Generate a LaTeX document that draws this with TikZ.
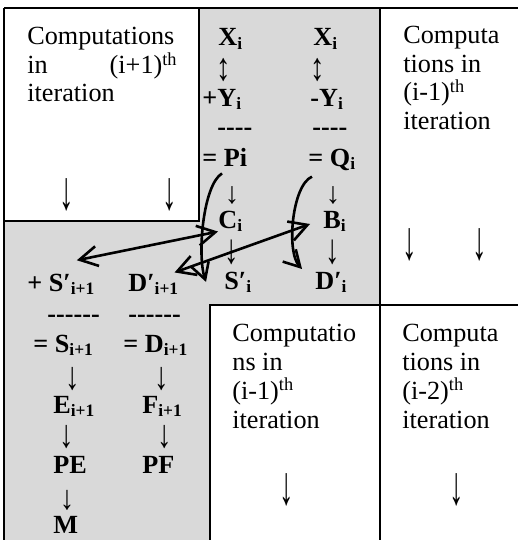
\documentclass[tikz,border=0pt]{standalone}
\usepackage{fontspec}
\setmainfont{Liberation Serif}
\usetikzlibrary{arrows.meta}
\definecolor{cellgray}{HTML}{D9D9D9}
\newcommand{\lo}[1]{\raisebox{-0.12em}{\fontsize{8.7}{9}\selectfont#1}}
\newcommand{\tall}[2]{\scalebox{1.1}[#1]{#2}}

\begin{document}
\begin{tikzpicture}[x=0.5pt, y=-0.5pt,
    every node/.style={font=\fontsize{13.1}{15}\selectfont, inner sep=0pt},
    txt/.style={anchor=base west},
    bld/.style={anchor=base west, font=\fontsize{13.1}{15}\selectfont\bfseries},
    pairlink/.style={line width=1.3pt, >={Straight Barb[length=9pt,width=10pt]}, <->},
    curvy/.style={line width=1.3pt, -{Straight Barb[length=8pt,width=9pt]}}]
    \useasboundingbox (0,0) rectangle (518,540);
    % table cells
    \fill[cellgray] (199,8) rectangle (380,305);
    \fill[cellgray] (4,221) rectangle (210,540);
    \draw[line width=1.4pt] (4,8) -- (518,8);
    \draw[line width=1pt] (4,8) -- (4,540);
    \draw[line width=1pt] (199,8) -- (199,221) -- (4,221);
    \draw[line width=1pt] (380,8) -- (380,540);
    \draw[line width=1pt] (210,540) -- (210,305) -- (518,305);

    % (i+1)th iteration
    \node[txt] (nxta) at (27,45) {Computations};
    \node[txt] (nxtb) at (27,74) {in};
    \node[anchor=base east] (nxtc) at (178,74) {(i+1)\textsuperscript{th}};
    \node[txt] (nxtd) at (27,102) {iteration};

    % (i-1)th iteration, top
    \node[txt] (prva) at (403,44) {Computa};
    \node[txt] (prvb) at (403,73) {tions in};
    \node[txt] (prvc) at (403,101) {(i-1)\textsuperscript{th}};
    \node[txt] (prvd) at (403,129) {iteration};

    % (i-1)th iteration, bottom
    \node[txt] (lowa) at (232,341) {Computatio};
    \node[txt] (lowb) at (232,370) {ns in};
    \node[txt] (lowc) at (232,399) {(i-1)\textsuperscript{th}};
    \node[txt] (lowd) at (232,428) {iteration};

    % (i-2)th iteration
    \node[txt] (olda) at (402,341) {Computa};
    \node[txt] (oldb) at (402,370) {tions in};
    \node[txt] (oldc) at (402,399) {(i-2)\textsuperscript{th}};
    \node[txt] (oldd) at (402,428) {iteration};

    % i-th iteration
    \node[bld] (xa) at (218,46) {X\lo{i}};
    \node[bld] (xb) at (313,46) {X\lo{i}};
    \node (ua) at (224,70) {\tall{1.5}{↕}};
    \node (ub) at (318,70) {\tall{1.5}{↕}};
    \node[bld] (ya) at (202,106) {+Y\lo{i}};
    \node[bld] (yb) at (310,106) {-Y\lo{i}};
    \node[bld] (ra) at (217,135) {-{}-{}-{}-};
    \node[bld] (rb) at (312,135) {-{}-{}-{}-};
    \node[bld] (pi) at (202,166) {= Pi};
    \node[bld] (qi) at (308,166) {= Q\lo{i}};
    \node[bld] (ci) at (218,228) {C\lo{i}};
    \node[bld] (bi) at (323,228) {B\lo{i}};
    \node[bld] (si) at (224,289) {S′\lo{i}};
    \node[bld] (di) at (315,289) {D′\lo{i}};

    % (i+1)-th iteration, lower part
    \node[bld] (sn) at (27,291) {+ S′\lo{i+1}};
    \node[bld] (dn) at (128,291) {D′\lo{i+1}};
    \node[bld] (rc) at (47,322) {-{}-{}-{}-{}-{}-};
    \node[bld] (rd) at (128,322) {-{}-{}-{}-{}-{}-};
    \node[bld] (sum) at (33,352) {= S\lo{i+1}};
    \node[bld] (dif) at (123,352) {= D\lo{i+1}};
    \node[bld] (ei) at (53,413) {E\lo{i+1}};
    \node[bld] (fi) at (142,413) {F\lo{i+1}};
    \node[bld] (pe) at (53,473) {PE};
    \node[bld] (pf) at (142,473) {PF};
    \node[bld] (mm) at (53,533) {M};

    % down arrows
    \foreach \n/\x/\y/\s in {da/67/195/2.1, db/170/195/2.1, dc/410/245/2.1, dd/480/245/2.1,
                             de/287/490/2.1, df/457/490/2.1,
                             dg/232/195/1.15, dh/333/195/1.15, dk/232/252/1.6, dl/333/252/1.6,
                             dm/73/379/1.5, dp/162/379/1.5, dq/67/437/1.5, dr/165/437/1.5, ds/67/500/1.3}
        \node (\n) at (\x,\y) {\tall{\s}{↓}};

    % carries between iterations
    \draw[curvy] ([xshift=10pt,yshift=-3.5pt]pi.south west) .. controls (203,185) and (197,255) .. ([xshift=-9pt]si.west);
    \draw[curvy] ([xshift=2pt,yshift=-3pt]qi.south west) .. controls (292,185) and (286,252) .. ([xshift=-6.5pt,yshift=6.5pt]di.west);
    \draw[pairlink] ([xshift=8pt,yshift=6.5pt]sn.north) -- (ci.south west);
    \draw[pairlink] ([xshift=-2pt,yshift=0.5pt]dn.north east) -- ([xshift=-6.5pt,yshift=-1.5pt]bi.west);
\end{tikzpicture}
\end{document}
